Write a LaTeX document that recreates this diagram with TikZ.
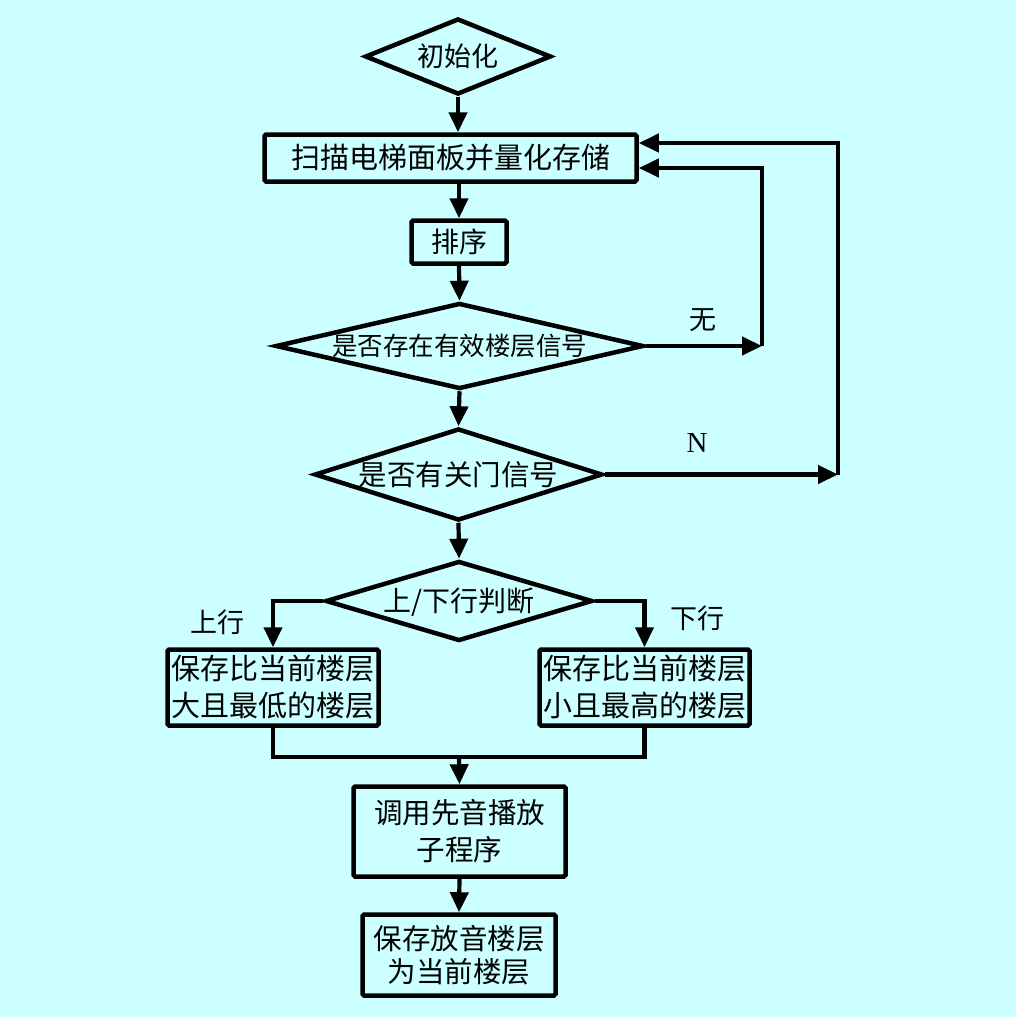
\documentclass[tikz,border=0pt]{standalone}
\usepackage{fontspec}
\newfontfamily\cjk{Noto Sans CJK SC}
\usetikzlibrary{shapes.geometric,arrows.meta}
\definecolor{bg}{RGB}{204,255,255}
\newcommand\dtxt[1]{\makebox[0pt]{\raisebox{-0.38em}[0pt][0pt]{#1}}}
\begin{document}
\begin{tikzpicture}[x=1pt,y=-1pt,
  box/.style={draw, line width=4.5pt, fill=bg, rounded corners=1.5pt, inner sep=0pt, align=center},
  dia/.style={draw, diamond, line width=4.5pt, fill=bg, inner sep=0pt},
  arr/.style={line width=4.2pt, -{Triangle[length=20pt,width=18pt]}},
  ln/.style={line width=4.2pt},
  fs/.style={font=\cjk\fontsize{#1}{37}\selectfont},
  lbl/.style={inner sep=0pt, font=\cjk\fontsize{27}{32}\selectfont}
]
\fill[bg] (0,0) rectangle (1016,1017);
\useasboundingbox (0,0) rectangle (1016,1017);

% nodes
\node[dia, minimum width=186, minimum height=76, fs=27] (init) at (458,56.5) {\dtxt{初始化}};
\node[box, minimum width=372, minimum height=47, fs=29] (scan) at (450.5,158) {扫描电梯面板并量化存储};
\node[box, minimum width=95, minimum height=43, fs=28] (sort) at (459,242) {排序};
\node[dia, minimum width=368, minimum height=86, fs=25.5] (d1) at (459.5,346) {\dtxt{是否存在有效楼层信号}};
\node[dia, minimum width=288, minimum height=92, fs=28.5] (d2) at (458.5,474.5) {\dtxt{是否有关门信号}};
\node[dia, minimum width=267, minimum height=80, fs=28] (d3) at (459,601) {\dtxt{上/下行判断}};
\node[box, minimum width=211, minimum height=76, fs=29] (lbox) at (273,687.5) {保存比当前楼层\\大且最低的楼层};
\node[box, minimum width=210, minimum height=76, fs=29] (rbox) at (644.5,687.5) {保存比当前楼层\\小且最高的楼层};
\node[box, minimum width=212, minimum height=90, fs=28.5] (call) at (459.5,831.5) {调用先音播放\\子程序};
\node[box, minimum width=193, minimum height=81, font=\cjk\fontsize{28.5}{33}\selectfont] (save) at (459,955) {保存放音楼层\\为当前楼层};

% labels
\node[lbl] (wu) at (703,320) {无};
\node[inner sep=0pt, font=\fontspec{Liberation Serif}\fontsize{29}{32}\selectfont] (nn) at (697,443) {N};
\node[lbl] (up) at (217,622) {上行};
\node[lbl] (down) at (697,618) {下行};

% helper coordinates
\coordinate (c1) at (762,346);
\coordinate (c1t) at (762,168);
\coordinate (c2) at (838,474.5);
\coordinate (c2t) at (838,143);
\coordinate (j) at (459,757);

% connectors
\draw[arr] (init.south) -- (init.south |- scan.north);
\draw[arr] (scan.south -| sort) -- (sort.north);
\draw[arr] (sort.south) -- (d1.north);
\draw[arr] (d1.east) -- (c1);
\draw[arr] (c1) -- (c1t) -- (c1t -| scan.east);
\draw[arr] (d1.south) -- (d2.north);
\draw[arr] (d2.east) -- (c2);
\draw[arr] (c2) -- (c2t) -- (c2t -| scan.east);
\draw[arr] (d2.south) -- (d3.north);
\draw[arr] (d3.west) -- (d3.west -| lbox.north) -- (lbox.north);
\draw[arr] (d3.east) -- (d3.east -| rbox.north) -- (rbox.north);
\draw[ln] (lbox.south) -- (lbox.south |- j) -- (rbox.south |- j) -- (rbox.south);
\draw[arr] (j) -- (call.north);
\draw[arr] (call.south) -- (save.north);
\end{tikzpicture}
\end{document}
